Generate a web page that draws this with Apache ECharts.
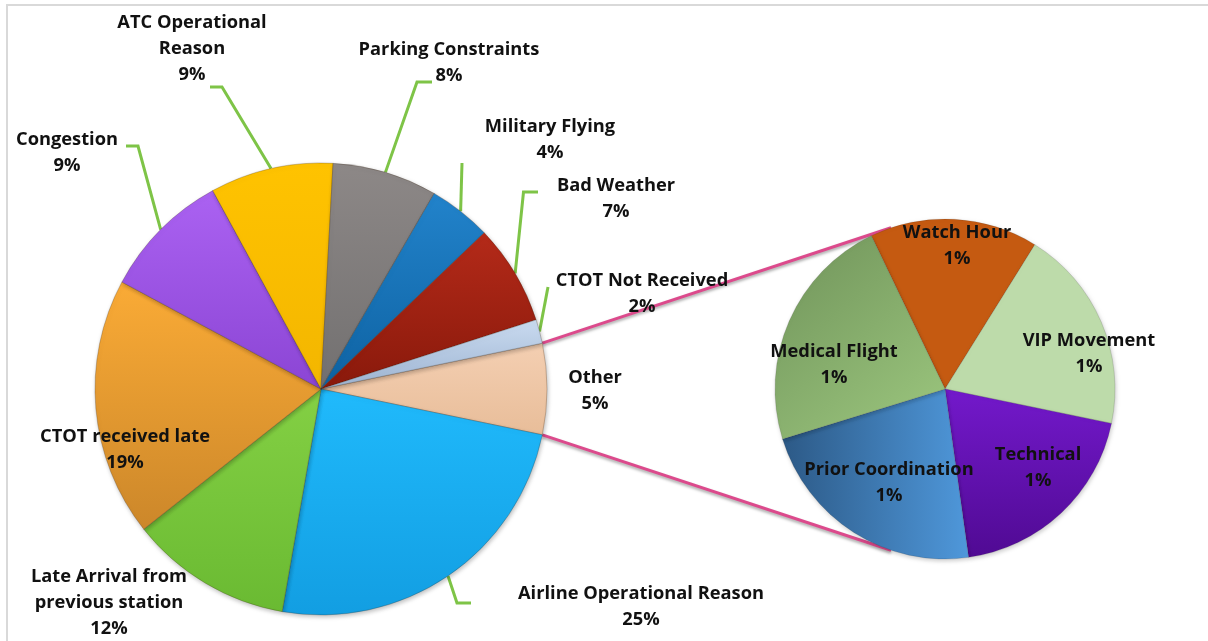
<!DOCTYPE html>
<html><head><meta charset="utf-8">
<script src="https://cdn.jsdelivr.net/npm/echarts@6/dist/echarts.min.js"></script>
<style>html,body{margin:0;padding:0;background:#fff}#c{width:1208px;height:641px}</style>
</head><body><div id="c"></div>
<script>
// ---- data ----
const mainNames = ['Other','Airline Operational Reason','Late Arrival from\nprevious station','CTOT received late','Congestion','ATC Operational\nReason','Parking Constraints','Military Flying','Bad Weather','CTOT Not Received'];
const mainValues = [6.5, 24.5, 11.6, 18.5, 9.2, 8.8, 7.5, 4.5, 7.2, 1.7];
const mainPctLabels = ['5%','25%','12%','19%','9%','9%','8%','4%','7%','2%'];
const subNames = ['Watch Hour','VIP Movement','Technical','Prior Coordination','Medical Flight'];
const subValues = [1.04, 1.26, 1.27, 1.46, 1.47];
const subPctLabels = ['1%','1%','1%','1%','1%'];

// ---- layout / style ----
const MC = [321, 389], MR = 226;
const SC = [945, 389], SR = 170;
const subStart = 115.7;
const connectAngle = 108.5;

const G = echarts.graphic;
function vgrad(a, b){ return new G.LinearGradient(0,0,0,1,[{offset:0,color:a},{offset:1,color:b}]); }
function hgrad(a, b){ return new G.LinearGradient(0,0,1,0,[{offset:0,color:a},{offset:1,color:b}]); }
function dgrad(a, b){ return new G.LinearGradient(0,0,1,1,[{offset:0,color:a},{offset:1,color:b}]); }

const mainColors = [
  vgrad('#f4cfb2','#e8bd99'),
  vgrad('#20bafc','#129ee2'),
  vgrad('#84d044','#6aba32'),
  vgrad('#faab36','#cc872a'),
  vgrad('#ab62f2','#8b45d4'),
  vgrad('#ffc300','#f3b600'),
  vgrad('#8d8887','#727070'),
  vgrad('#2283cb','#0e62a2'),
  vgrad('#b42a19','#89190b'),
  vgrad('#cadbf0','#9db4d2')
];
const subColors = [
  '#c55a11',
  '#bddbaa',
  vgrad('#7319cb','#500a93'),
  hgrad('#2c5986','#4f98db'),
  dgrad('#70935a','#9dc87f')
];

const mainLayout = [
  {x:595, y:391},
  {x:641, y:607, line:[[457,603],[471,603]]},
  {x:109, y:603},
  {x:125, y:450},
  {x:67,  y:153, line:[[138,146],[126,146]]},
  {x:192, y:49,  line:[[222,87],[210,87]]},
  {x:449, y:63,  line:[[417,82],[432,82]]},
  {x:550, y:140, line:[[462,163],[462,163]]},
  {x:616, y:199, line:[[523.5,192],[538,192]]},
  {x:642, y:294, line:[[548,287],[548,287]]}
];
const subLayout = [
  {x:957, y:246}, {x:1089, y:354}, {x:1038, y:468}, {x:889, y:483}, {x:834, y:365}
];

const mainTotal = mainValues.reduce((a,b)=>a+b,0);
const mainStart = mainValues[0] / mainTotal * 180;
const midAngles = [];
{ let cum = 0; mainValues.forEach(v => { midAngles.push(mainStart - (cum + v/2)/mainTotal*360); cum += v; }); }

const font = {fontFamily:'Open Sans', fontWeight:'bold', fontSize:18.3, color:'#111111', lineHeight:26};

const mainData = mainNames.map((n,i)=>({
  name:n, value:mainValues[i],
  itemStyle:{color:mainColors[i]},
  labelLine:{show: !!mainLayout[i].line}
}));
const subData = subNames.map((n,i)=>({name:n, value:subValues[i], itemStyle:{color:subColors[i]}}));

function rad(d){ return d*Math.PI/180; }
const p1 = [MC[0]+MR*Math.cos(rad(mainStart)), MC[1]-MR*Math.sin(rad(mainStart))];
const p2 = [MC[0]+MR*Math.cos(rad(-mainStart)), MC[1]-MR*Math.sin(rad(-mainStart))];
const q1 = [SC[0]+SR*Math.cos(rad(connectAngle)), SC[1]-SR*Math.sin(rad(connectAngle))];
const q2 = [SC[0]+SR*Math.cos(rad(-connectAngle)), SC[1]-SR*Math.sin(rad(-connectAngle))];

const chart = echarts.init(document.getElementById('c'), null, {renderer:'canvas'});
chart.setOption({
  animation:false,
  backgroundColor:'#ffffff',
  graphic:[
    {type:'rect', shape:{x:7,y:5,width:1300,height:700}, style:{fill:'none', stroke:'#d9d9d9', lineWidth:2}, z:0},
    {type:'polyline', shape:{points:[p1,q1]}, style:{stroke:'#dc4a8c', lineWidth:3, shadowColor:'rgba(0,0,0,0.35)', shadowBlur:3, shadowOffsetY:2}, z:1},
    {type:'polyline', shape:{points:[p2,q2]}, style:{stroke:'#dc4a8c', lineWidth:3, shadowColor:'rgba(0,0,0,0.35)', shadowBlur:3, shadowOffsetY:2}, z:1}
  ],
  series:[
    {
      type:'pie', center:MC, radius:MR, startAngle:mainStart, clockwise:true,
      avoidLabelOverlap:false, data:mainData,
      itemStyle:{borderColor:'rgba(60,40,20,0.25)', borderWidth:1, shadowColor:'rgba(0,0,0,0.25)', shadowBlur:4, shadowOffsetX:1, shadowOffsetY:2},
      emphasis:{disabled:true},
      label:Object.assign({show:true, position:'outside', formatter:p=>p.name+'\n'+mainPctLabels[p.dataIndex]}, font),
      labelLine:{show:true, lineStyle:{color:'#7ec447', width:3}},
      labelLayout:function(params){
        const L = mainLayout[params.dataIndex];
        const o = {x:L.x, y:L.y, align:'center', verticalAlign:'middle'};
        if (L.line){
          const a = rad(midAngles[params.dataIndex]);
          const s = [MC[0]+MR*Math.cos(a), MC[1]-MR*Math.sin(a)];
          o.labelLinePoints = [s, L.line[0], L.line[1]];
        }
        return o;
      },
      z:2
    },
    {
      type:'pie', center:SC, radius:SR, startAngle:subStart, clockwise:true,
      avoidLabelOverlap:false, data:subData,
      itemStyle:{borderColor:'rgba(40,40,40,0.15)', borderWidth:1, shadowColor:'rgba(0,0,0,0.2)', shadowBlur:4, shadowOffsetX:1, shadowOffsetY:2},
      emphasis:{disabled:true},
      label:Object.assign({show:true, position:'inside', formatter:p=>p.name+'\n'+subPctLabels[p.dataIndex]}, font),
      labelLine:{show:false},
      labelLayout:function(params){
        const L = subLayout[params.dataIndex];
        return {x:L.x, y:L.y, align:'center', verticalAlign:'middle'};
      },
      z:2
    }
  ]
});
</script>
</body></html>
